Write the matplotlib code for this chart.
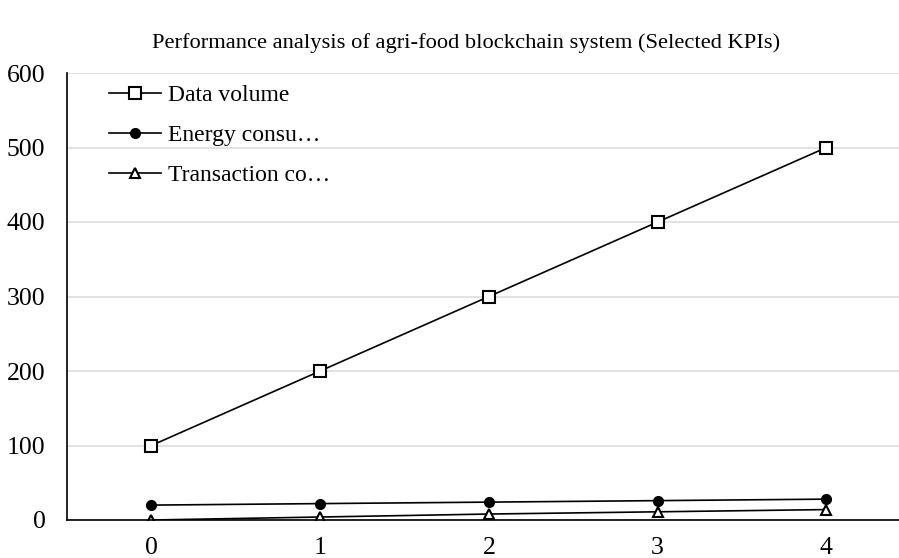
import matplotlib.pyplot as plt

plt.rcParams["font.family"] = ["Liberation Serif", "DejaVu Serif"]

steps = [0, 1, 2, 3, 4]
data_volume = [100, 200, 300, 400, 500]
energy_consumption = [20, 22, 24, 26, 28]
transaction_cost = [0, 4, 8, 11, 14]

fig = plt.figure(figsize=(8.99, 5.58), dpi=100)
ax = fig.add_axes([67 / 899, 1 - 520 / 558, 1 - 67 / 899, (520 - 73) / 558])

ax.plot(steps, data_volume, color="black", lw=1.2, marker="s", ms=8,
        mfc="white", mec="black", mew=1.5, label="Data volume")
ax.plot(steps, energy_consumption, color="black", lw=1.2, marker="o", ms=7,
        mfc="black", mec="black", label="Energy consu\u2026")
ax.plot(steps, transaction_cost, color="black", lw=1.2, marker="^", ms=6.5,
        mfc="white", mec="black", mew=1.5, label="Transaction co\u2026")

ax.set_xlim(-0.5, 4.43)
ax.set_ylim(0, 600)
ax.set_xticks(steps)
ax.set_yticks(range(0, 601, 100))
ax.tick_params(length=0, labelsize=18.5)
ax.tick_params(axis="x", pad=12.5)
ax.tick_params(axis="y", pad=15.5)
ax.grid(axis="y", color="#dddddd", lw=1.2)
ax.set_axisbelow(True)

for side in ("top", "right"):
    ax.spines[side].set_visible(False)
for side in ("left", "bottom"):
    ax.spines[side].set_color("black")
    ax.spines[side].set_linewidth(1.2)

ax.legend(loc="upper left", bbox_to_anchor=(0.025, 1.022), frameon=False,
          fontsize=17, handlelength=2.2, labelspacing=0.78, handletextpad=0.3)

fig.text(466 / 899, 1 - 43 / 558,
         "Performance analysis of agri-food blockchain system (Selected KPIs)",
         ha="center", va="center", fontsize=16.2)

fig.savefig("out.png", dpi=100)
